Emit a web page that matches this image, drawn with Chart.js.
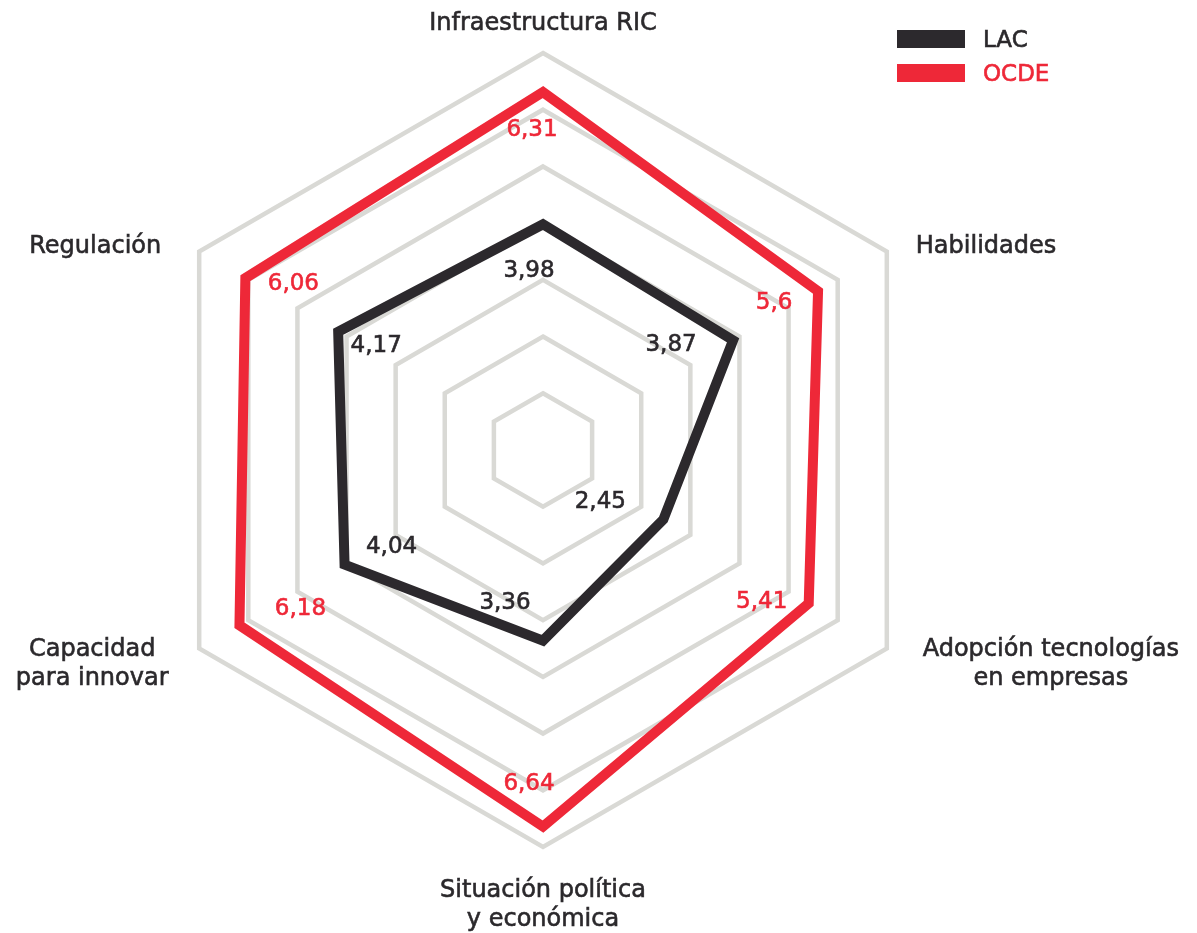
<!DOCTYPE html>
<html lang="es">
<head>
<meta charset="utf-8">
<title>LAC vs OCDE</title>
<script src="https://cdn.jsdelivr.net/npm/chart.js@4"></script>
<style>
  html, body { margin: 0; padding: 0; background: #ffffff; }
  #wrap { position: relative; width: 1197px; height: 933px; }
  canvas { display: block; }
</style>
</head>
<body>
<div id="wrap"><canvas id="radar" width="1197" height="933"></canvas></div>
<script>
// Axis categories (clockwise from the top), one array entry per line of text
const axisLabels = [
  ['Infraestructura RIC'],
  ['Habilidades'],
  ['Adopción tecnologías', 'en empresas'],
  ['Situación política', 'y económica'],
  ['Capacidad', 'para innovar'],
  ['Regulación']
];
const seriesNames = ['LAC', 'OCDE'];
const lacValues  = [3.98, 3.87, 2.45, 3.36, 4.04, 4.17];
const ocdeValues = [6.31, 5.6, 5.41, 6.64, 6.18, 6.06];
const scaleMin = 0;
const scaleMax = 7;
const scaleStep = 1;

// Styling
const FONT = '"DejaVu Sans", "Noto Sans", sans-serif';
const TEXT_DARK = '#2b292c';
const LAC_COLOR = '#2c292d';
const OCDE_COLOR = '#ee2838';
const GRID_COLOR = '#d9d9d5';
const TEXT_STROKE = 0.6; // thin outline gives the text a medium weight

// Placement of the axis captions around the outer ring: alignment, offset
// from the outer vertex and the first line's baseline offset
const axisCaptionPlacement = [
  { align: 'center', dx: 0,    dy: -23 },
  { align: 'left',   dx: 29,   dy: 1 },
  { align: 'center', dx: 164,  dy: 7 },
  { align: 'center', dx: 0,    dy: 50 },
  { align: 'center', dx: -107, dy: 7 },
  { align: 'right',  dx: -38,  dy: 1 }
];
const captionLineHeight = 29;

// Nudges of each value tag (text centre) away from its vertex, per series
const valueTagNudge = [
  [[-14, 45], [-62, 3], [-63, -19], [-38, -40], [47, -20], [38, 12]],
  [[-11, 36], [-44, 10], [-47, -3], [-14, -45], [61, -18], [48, 4]]
];

const fmt = v => String(v).replace('.', ',');

function paintText(ctx, text, x, y, color) {
  ctx.fillStyle = color;
  ctx.strokeStyle = color;
  ctx.lineWidth = TEXT_STROKE;
  ctx.fillText(text, x, y);
  ctx.strokeText(text, x, y);
}

const captionsPlugin = {
  id: 'axisCaptions',
  afterDraw(chart) {
    const scale = chart.scales.r;
    const ctx = chart.ctx;
    ctx.save();
    ctx.font = '24px ' + FONT;
    ctx.textBaseline = 'alphabetic';
    axisLabels.forEach((lines, i) => {
      const p = scale.getPointPosition(i, scale.drawingArea);
      const pl = axisCaptionPlacement[i];
      ctx.textAlign = pl.align;
      lines.forEach((line, k) => {
        paintText(ctx, line, p.x + pl.dx, p.y + pl.dy + k * captionLineHeight, TEXT_DARK);
      });
    });
    ctx.restore();
  }
};

const valueTagsPlugin = {
  id: 'valueTags',
  afterDatasetsDraw(chart) {
    const scale = chart.scales.r;
    const ctx = chart.ctx;
    ctx.save();
    ctx.font = '23px ' + FONT;
    ctx.textAlign = 'center';
    ctx.textBaseline = 'alphabetic';
    chart.data.datasets.forEach((ds, d) => {
      ds.data.forEach((v, i) => {
        const p = scale.getPointPosition(i, scale.getDistanceFromCenterForValue(v));
        const n = valueTagNudge[d][i];
        paintText(ctx, fmt(v), p.x + n[0], p.y + n[1] + 8, ds.borderColor);
      });
    });
    ctx.restore();
  }
};

const keyPlugin = {
  id: 'seriesKey',
  afterDraw(chart) {
    const ctx = chart.ctx;
    ctx.save();
    ctx.font = '23px ' + FONT;
    ctx.textAlign = 'left';
    ctx.textBaseline = 'alphabetic';
    chart.data.datasets.forEach((ds, d) => {
      const top = 30 + d * 34;
      ctx.fillStyle = ds.borderColor;
      ctx.fillRect(897, top, 68, 18);
      paintText(ctx, ds.label, 983, top + 17, d === 0 ? TEXT_DARK : ds.borderColor);
    });
    ctx.restore();
  }
};

new Chart(document.getElementById('radar'), {
  type: 'radar',
  data: {
    labels: axisLabels,
    datasets: [
      {
        label: seriesNames[0],
        data: lacValues,
        borderColor: LAC_COLOR,
        backgroundColor: 'rgba(0,0,0,0)',
        borderWidth: 10,
        borderJoinStyle: 'miter',
        pointRadius: 0,
        pointHoverRadius: 0,
        fill: false
      },
      {
        label: seriesNames[1],
        data: ocdeValues,
        borderColor: OCDE_COLOR,
        backgroundColor: 'rgba(0,0,0,0)',
        borderWidth: 10,
        borderJoinStyle: 'miter',
        pointRadius: 0,
        pointHoverRadius: 0,
        fill: false
      }
    ]
  },
  options: {
    responsive: false,
    animation: false,
    layout: { padding: { left: 146, top: 53, right: 257, bottom: 86 } },
    plugins: {
      legend: { display: false },
      tooltip: { enabled: false }
    },
    scales: {
      r: {
        min: scaleMin,
        max: scaleMax,
        ticks: { stepSize: scaleStep, display: false },
        grid: { color: GRID_COLOR, lineWidth: 4.5, circular: false },
        angleLines: { display: false },
        pointLabels: { display: false }
      }
    }
  },
  plugins: [captionsPlugin, valueTagsPlugin, keyPlugin]
});
</script>
</body>
</html>
